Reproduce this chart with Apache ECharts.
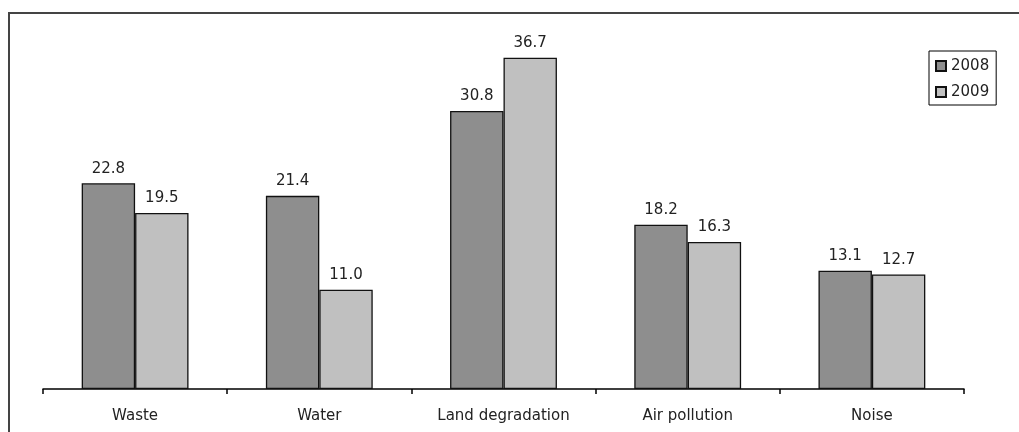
<!DOCTYPE html>
<html>
<head>
<meta charset="utf-8">
<style>
  html, body { margin: 0; padding: 0; background: #fff; }
  #chart { width: 1019px; height: 432px; }
</style>
<script src="https://cdn.jsdelivr.net/npm/echarts@6/dist/echarts.min.js"></script>
</head>
<body>
<div id="chart"></div>
<script>
// Environmental problem categories and the share reported for each year
const categories = ['Waste', 'Water', 'Land degradation', 'Air pollution', 'Noise'];
const values2008 = [22.8, 21.4, 30.8, 18.2, 13.1];
const values2009 = [19.5, 11.0, 36.7, 16.3, 12.7];
const seriesNames = ['2008', '2009'];

const FONT = 'DejaVu Sans, Verdana, sans-serif';

const chart = echarts.init(document.getElementById('chart'), null, { renderer: 'canvas' });

const labelStyle = {
  show: true,
  position: 'top',
  distance: 7,
  fontFamily: FONT,
  fontSize: 15,
  color: '#222',
  formatter: p => p.value.toFixed(1)
};

chart.setOption({
  animation: false,
  backgroundColor: '#fff',
  graphic: [
    {
      // frame along the left and top edges
      type: 'polyline',
      shape: { points: [[9, 432], [9, 13], [1019, 13]] },
      style: { stroke: '#444', lineWidth: 2, fill: null },
      silent: true
    }
  ],
  grid: { left: 43, right: 55, top: 28, bottom: 43, containLabel: false },
  legend: {
    orient: 'vertical',
    left: 929,
    top: 51,
    padding: [7, 7, 5, 6],
    itemGap: 10,
    itemWidth: 10,
    itemHeight: 10,
    icon: 'rect',
    borderColor: '#000',
    borderWidth: 1,
    textStyle: {
      fontFamily: FONT,
      fontSize: 15,
      lineHeight: 16,
      color: '#222',
      padding: [0, 0, 0, 0]
    },
    data: seriesNames
  },
  xAxis: {
    type: 'category',
    data: categories,
    boundaryGap: true,
    axisLine: { show: true, lineStyle: { color: '#000', width: 1.5 } },
    axisTick: { show: true, length: 5, lineStyle: { color: '#000', width: 1.5 } },
    axisLabel: {
      margin: 20,
      fontFamily: FONT,
      fontSize: 15,
      color: '#222'
    }
  },
  yAxis: {
    type: 'value',
    min: 0,
    max: 40,
    show: false,
    splitLine: { show: false }
  },
  series: [
    {
      name: seriesNames[0],
      type: 'bar',
      data: values2008,
      barGap: '0%',
      barCategoryGap: '42%',
      itemStyle: { color: '#8e8e8e', borderColor: '#111', borderWidth: 1.3 },
      label: labelStyle
    },
    {
      name: seriesNames[1],
      type: 'bar',
      data: values2009,
      barGap: '0%',
      barCategoryGap: '42%',
      itemStyle: { color: '#c0c0c0', borderColor: '#111', borderWidth: 1.3 },
      label: labelStyle
    }
  ]
});
</script>
</body>
</html>
